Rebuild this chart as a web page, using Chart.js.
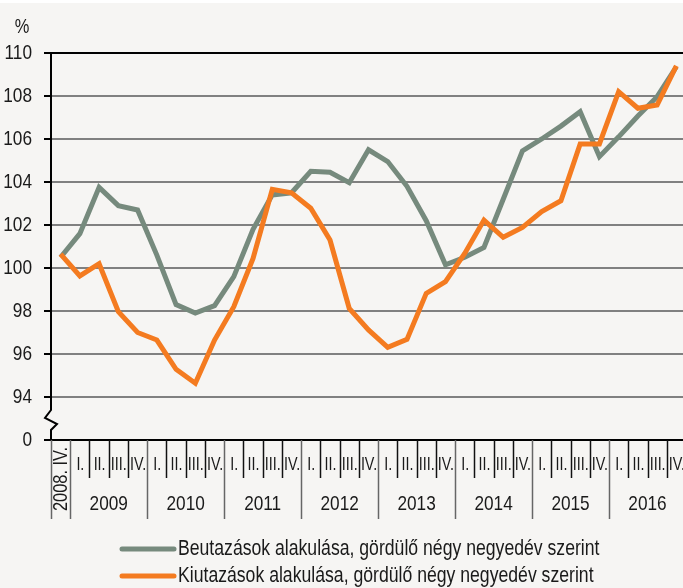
<!DOCTYPE html>
<html>
<head>
<meta charset="utf-8">
<script src="https://cdn.jsdelivr.net/npm/chart.js@4.4.1/dist/chart.umd.min.js"></script>
<style>
  html, body { margin: 0; padding: 0; background: #f6f5f3; overflow: hidden; }
  #wrap { position: relative; width: 686px; height: 588px; }
  #topband { position: absolute; left: 0; top: 0; width: 686px; height: 3px; background: #fff; }
</style>
</head>
<body>
<div id="wrap">
  <canvas id="chart" width="686" height="588"></canvas>
  <div id="topband"></div>
</div>
<script>
const firstLabel = "2008. IV.";
const years = ["2009", "2010", "2011", "2012", "2013", "2014", "2015", "2016"];
const quarters = ["I.", "II.", "III.", "IV."];
const labels = [firstLabel, ...years.flatMap(y => quarters.map(q => y + " " + q))];

const yTicks = [92, 94, 96, 98, 100, 102, 104, 106, 108, 110];
const breakValue = 92; // shown as "0" below the axis break

const beutazasok = [100.5, 101.6, 103.75, 102.9, 102.7, 100.6, 98.3, 97.9, 98.25, 99.6,
  101.8, 103.4, 103.5, 104.5, 104.45, 103.97, 105.5, 104.95, 103.8, 102.2,
  100.15, 100.5, 100.96, 103.2, 105.45, 106.0, 106.6, 107.27, 105.18, 106.1,
  107.07, 107.97, 109.36];
const kiutazasok = [100.65, 99.63, 100.2, 97.97, 97.0, 96.65, 95.29, 94.64, 96.65, 98.2,
  100.45, 103.66, 103.5, 102.78, 101.3, 98.12, 97.12, 96.31, 96.68, 98.82,
  99.36, 100.68, 102.23, 101.43, 101.89, 102.62, 103.13, 105.77, 105.77, 108.2,
  107.43, 107.58, 109.4];

const GRAY = "#768a7d";
const ORANGE = "#f47b20";
const BG = "#f6f5f3";
const TEXT = "#1a1a1a";

// use a narrow face when installed, otherwise squeeze the regular one
const probe = document.createElement("canvas").getContext("2d");
probe.font = "40px 'Liberation Sans Narrow', monospace";
const wNarrow = probe.measureText("abcdefghij").width;
probe.font = "40px monospace";
const hasNarrow = Math.abs(wNarrow - probe.measureText("abcdefghij").width) > 1;
const NARROW = hasNarrow ? "'Liberation Sans Narrow', 'Arial Narrow', sans-serif" : "'Liberation Sans', Arial, sans-serif";
const SQUEEZE = hasNarrow ? 1 : 0.82;

function narrowText(ctx, text, x, y, size, align, rot) {
  ctx.save();
  ctx.translate(x, y);
  if (rot) ctx.rotate(rot);
  ctx.scale(SQUEEZE, 1);
  ctx.font = size + "px " + NARROW;
  ctx.textAlign = align || "center";
  ctx.textBaseline = "middle";
  ctx.fillText(text, 0, 0);
  ctx.restore();
}

const extrasPlugin = {
  id: "extras",
  afterDraw(chart) {
    const ctx = chart.ctx;
    const x = chart.scales.x;
    const y = chart.scales.y;
    const area = chart.chartArea;
    const n = labels.length;
    const w = (area.right - area.left) / n;
    const top = area.bottom;

    ctx.save();
    // axis break
    ctx.fillStyle = BG;
    ctx.fillRect(area.left - 4, 406, 8, 26);
    ctx.strokeStyle = "#000";
    ctx.lineWidth = 2;
    ctx.beginPath();
    ctx.moveTo(area.left, 404);
    ctx.lineTo(area.left, 410);
    ctx.lineTo(area.left - 6, 418);
    ctx.lineTo(area.left + 6, 424);
    ctx.lineTo(area.left, 430);
    ctx.lineTo(area.left, 434);
    ctx.stroke();

    ctx.fillStyle = TEXT;
    // y tick labels
    yTicks.forEach(v => {
      narrowText(ctx, v === breakValue ? "0" : String(v), 32, y.getPixelForValue(v), 21, "right");
    });
    narrowText(ctx, "%", 22, 27, 20, "center");

    // separators
    for (let k = 0; k <= n; k++) {
      const sx = Math.round(area.left + k * w) + 0.5;
      const isYear = k === 0 || (k - 1) % 4 === 0;
      ctx.beginPath();
      ctx.strokeStyle = isYear ? "#666" : "#111";
      ctx.lineWidth = 1.5;
      ctx.moveTo(sx, top);
      ctx.lineTo(sx, isYear ? 519 : 478);
      ctx.stroke();
    }

    // quarter labels
    for (let i = 1; i < n; i++) {
      narrowText(ctx, labels[i].split(" ")[1], x.getPixelForValue(i) + 0.5, 465, 17.5, "center");
    }

    // year labels
    years.forEach((yr, j) => {
      const a = x.getPixelForValue(1 + j * 4);
      const b = x.getPixelForValue(4 + j * 4);
      narrowText(ctx, yr, (a + b) / 2, 504, 21, "center");
    });

    // first category, rotated
    narrowText(ctx, firstLabel, x.getPixelForValue(0) + 1, 479, 20, "center", -Math.PI / 2);

    // legend
    chart.data.datasets.forEach((ds, i) => {
      const ly = 549 + i * 27;
      ctx.beginPath();
      ctx.strokeStyle = ds.borderColor;
      ctx.lineWidth = 5;
      ctx.lineCap = "round";
      ctx.moveTo(122, ly);
      ctx.lineTo(174, ly);
      ctx.stroke();
      narrowText(ctx, ds.label, 178, ly, 21.5, "left");
    });
    ctx.restore();
  }
};

new Chart(document.getElementById("chart").getContext("2d"), {
  type: "line",
  data: {
    labels,
    datasets: [
      { label: "Beutazások alakulása, gördülő négy negyedév szerint", data: beutazasok,
        borderColor: GRAY, borderWidth: 5, pointRadius: 0, tension: 0, order: 1 },
      { label: "Kiutazások alakulása, gördülő négy negyedév szerint", data: kiutazasok,
        borderColor: ORANGE, borderWidth: 5, pointRadius: 0, tension: 0, order: 0 }
    ]
  },
  options: {
    responsive: false,
    animation: false,
    devicePixelRatio: 1,
    layout: { padding: { top: 53, left: 0, right: 0, bottom: 0 } },
    plugins: { legend: { display: false }, tooltip: { enabled: false } },
    scales: {
      x: {
        offset: true,
        grid: { display: false },
        border: { color: "#000", width: 2 },
        ticks: { display: false },
        afterFit(scale) { scale.height = 148; }
      },
      y: {
        min: yTicks[0],
        max: yTicks[yTicks.length - 1],
        afterBuildTicks(scale) { scale.ticks = yTicks.map(v => ({ value: v })); },
        afterFit(scale) { scale.width = 51; },
        border: { color: "#000", width: 2 },
        grid: {
          color: c => c.tick && c.tick.value === 110 ? "#000" : (c.tick && c.tick.value === breakValue ? "rgba(0,0,0,0)" : "#808080"),
          lineWidth: 2,
          tickLength: 7,
          tickColor: "#000"
        },
        ticks: { display: false }
      }
    }
  },
  plugins: [extrasPlugin]
});
</script>
</body>
</html>
